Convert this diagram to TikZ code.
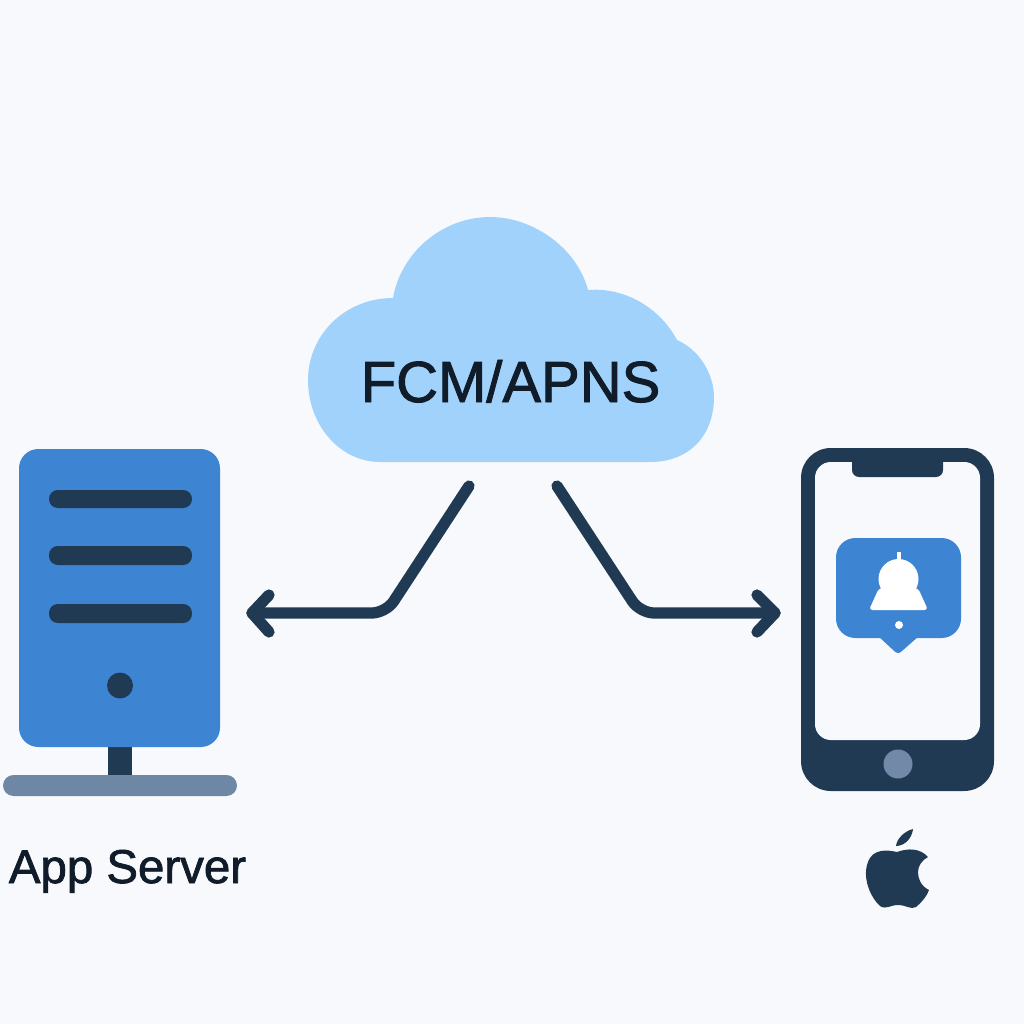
\documentclass[tikz,border=0pt]{standalone}
\usepackage{fontspec}
\setmainfont[FakeBold=1.6]{Liberation Sans}
\definecolor{bgc}{HTML}{F7F9FC}
\definecolor{navy}{HTML}{203A54}
\definecolor{blue1}{HTML}{3D84D2}
\definecolor{cloudc}{HTML}{A1D2FB}
\definecolor{slate}{HTML}{6E87A5}
\definecolor{btn}{HTML}{7389A8}
\definecolor{ink}{HTML}{101C2A}
\tikzset{
 conn/.style={draw=navy,line width=6.4pt,line cap=round,line join=round,rounded corners=8pt},
 tip/.style={draw=navy,line width=6.4pt,line cap=round,line join=round},
 bar/.style={fill=navy,rounded corners=5pt},
 lab/.style={inner sep=0pt,text=ink,anchor=base}
}
\begin{document}
\begin{tikzpicture}[x=0.02cm,y=-0.02cm]
\useasboundingbox (0,0) rectangle (1024,1024);
\fill[bgc] (0,0) rectangle (1024,1024);
% cloud
\fill[cloudc] (380,462) .. controls (340,462) and (308,425) .. (308,380)
 .. controls (308,335) and (345,298) .. (393,298)
 .. controls (401,252) and (443,217) .. (490,217)
 .. controls (533,217) and (577,248) .. (588,290)
 .. controls (625,287) and (660,308) .. (677,340)
 .. controls (700,350) and (714,375) .. (714,397)
 .. controls (714,435) and (690,462) .. (650,462) -- cycle;
\node[lab,font=\fontsize{33}{33}\selectfont] (fcm) at (510.5,402) {FCM/APNS};
% server
\fill[navy] (108,740) rectangle (132,780);
\fill[slate,rounded corners=6pt] (3,775) rectangle (237,796);
\fill[blue1,rounded corners=11pt] (19,449) rectangle (220,747);
\fill[bar] (49,490) rectangle (192,508);
\fill[bar] (49,546) rectangle (192,565);
\fill[bar] (49,604) rectangle (192,623);
\fill[navy] (120,685.5) circle (13);
\node[lab,font=\fontsize{27}{27}\selectfont] (srv) at (127.5,883) {App Server};
% phone
\fill[navy,rounded corners=17pt] (801,448) rectangle (994,791);
\fill[bgc,rounded corners=9pt] (815,462) rectangle (980,740);
\fill[navy,rounded corners=4pt] (852,455) rectangle (943,477);
\fill[btn] (898,764) circle (14.5);
% bubble
\fill[blue1,rounded corners=11pt] (836,538) rectangle (961,638);
\fill[blue1,rounded corners=2pt] (878,636) -- (898,654.5) -- (919,636) -- cycle;
\fill[white] (898.5,579) circle (20);
\fill[white,rounded corners=2pt] (879,588) -- (918,588) -- (928,610) -- (869,610) -- cycle;
\fill[white] (897,552) rectangle (901,565);
\fill[white] (899,625) circle (4);
% apple
\fill[navy] (897,852) .. controls (888,850) and (873,848) .. (868,862)
 .. controls (862,877) and (870,897) .. (880,906)
 .. controls (886,910) and (890,905) .. (898,905)
 .. controls (906,905) and (911,910) .. (916,907)
 .. controls (922,902) and (927,896) .. (929,890)
 .. controls (921,886) and (918,879) .. (918,872)
 .. controls (918,866) and (922,860) .. (928,857)
 .. controls (920,848) and (908,848) .. (897,852) -- cycle;
\fill[navy] (896,846) .. controls (897,838) and (905,831) .. (913,829)
 .. controls (912,838) and (905,846) .. (896,846) -- cycle;
% connectors
\coordinate (la) at (469,486);
\coordinate (lb) at (386,613);
\coordinate (lc) at (252,613);
\coordinate (ra) at (557,486);
\coordinate (rb) at (640,613);
\coordinate (rc) at (775,613);
\draw[conn] (la) -- (lb) -- (lc);
\draw[conn] (ra) -- (rb) -- (rc);
\draw[tip] (269,595) -- (lc) -- (269,632);
\draw[tip] (757,595) -- (rc) -- (757,632);
\end{tikzpicture}
\end{document}
